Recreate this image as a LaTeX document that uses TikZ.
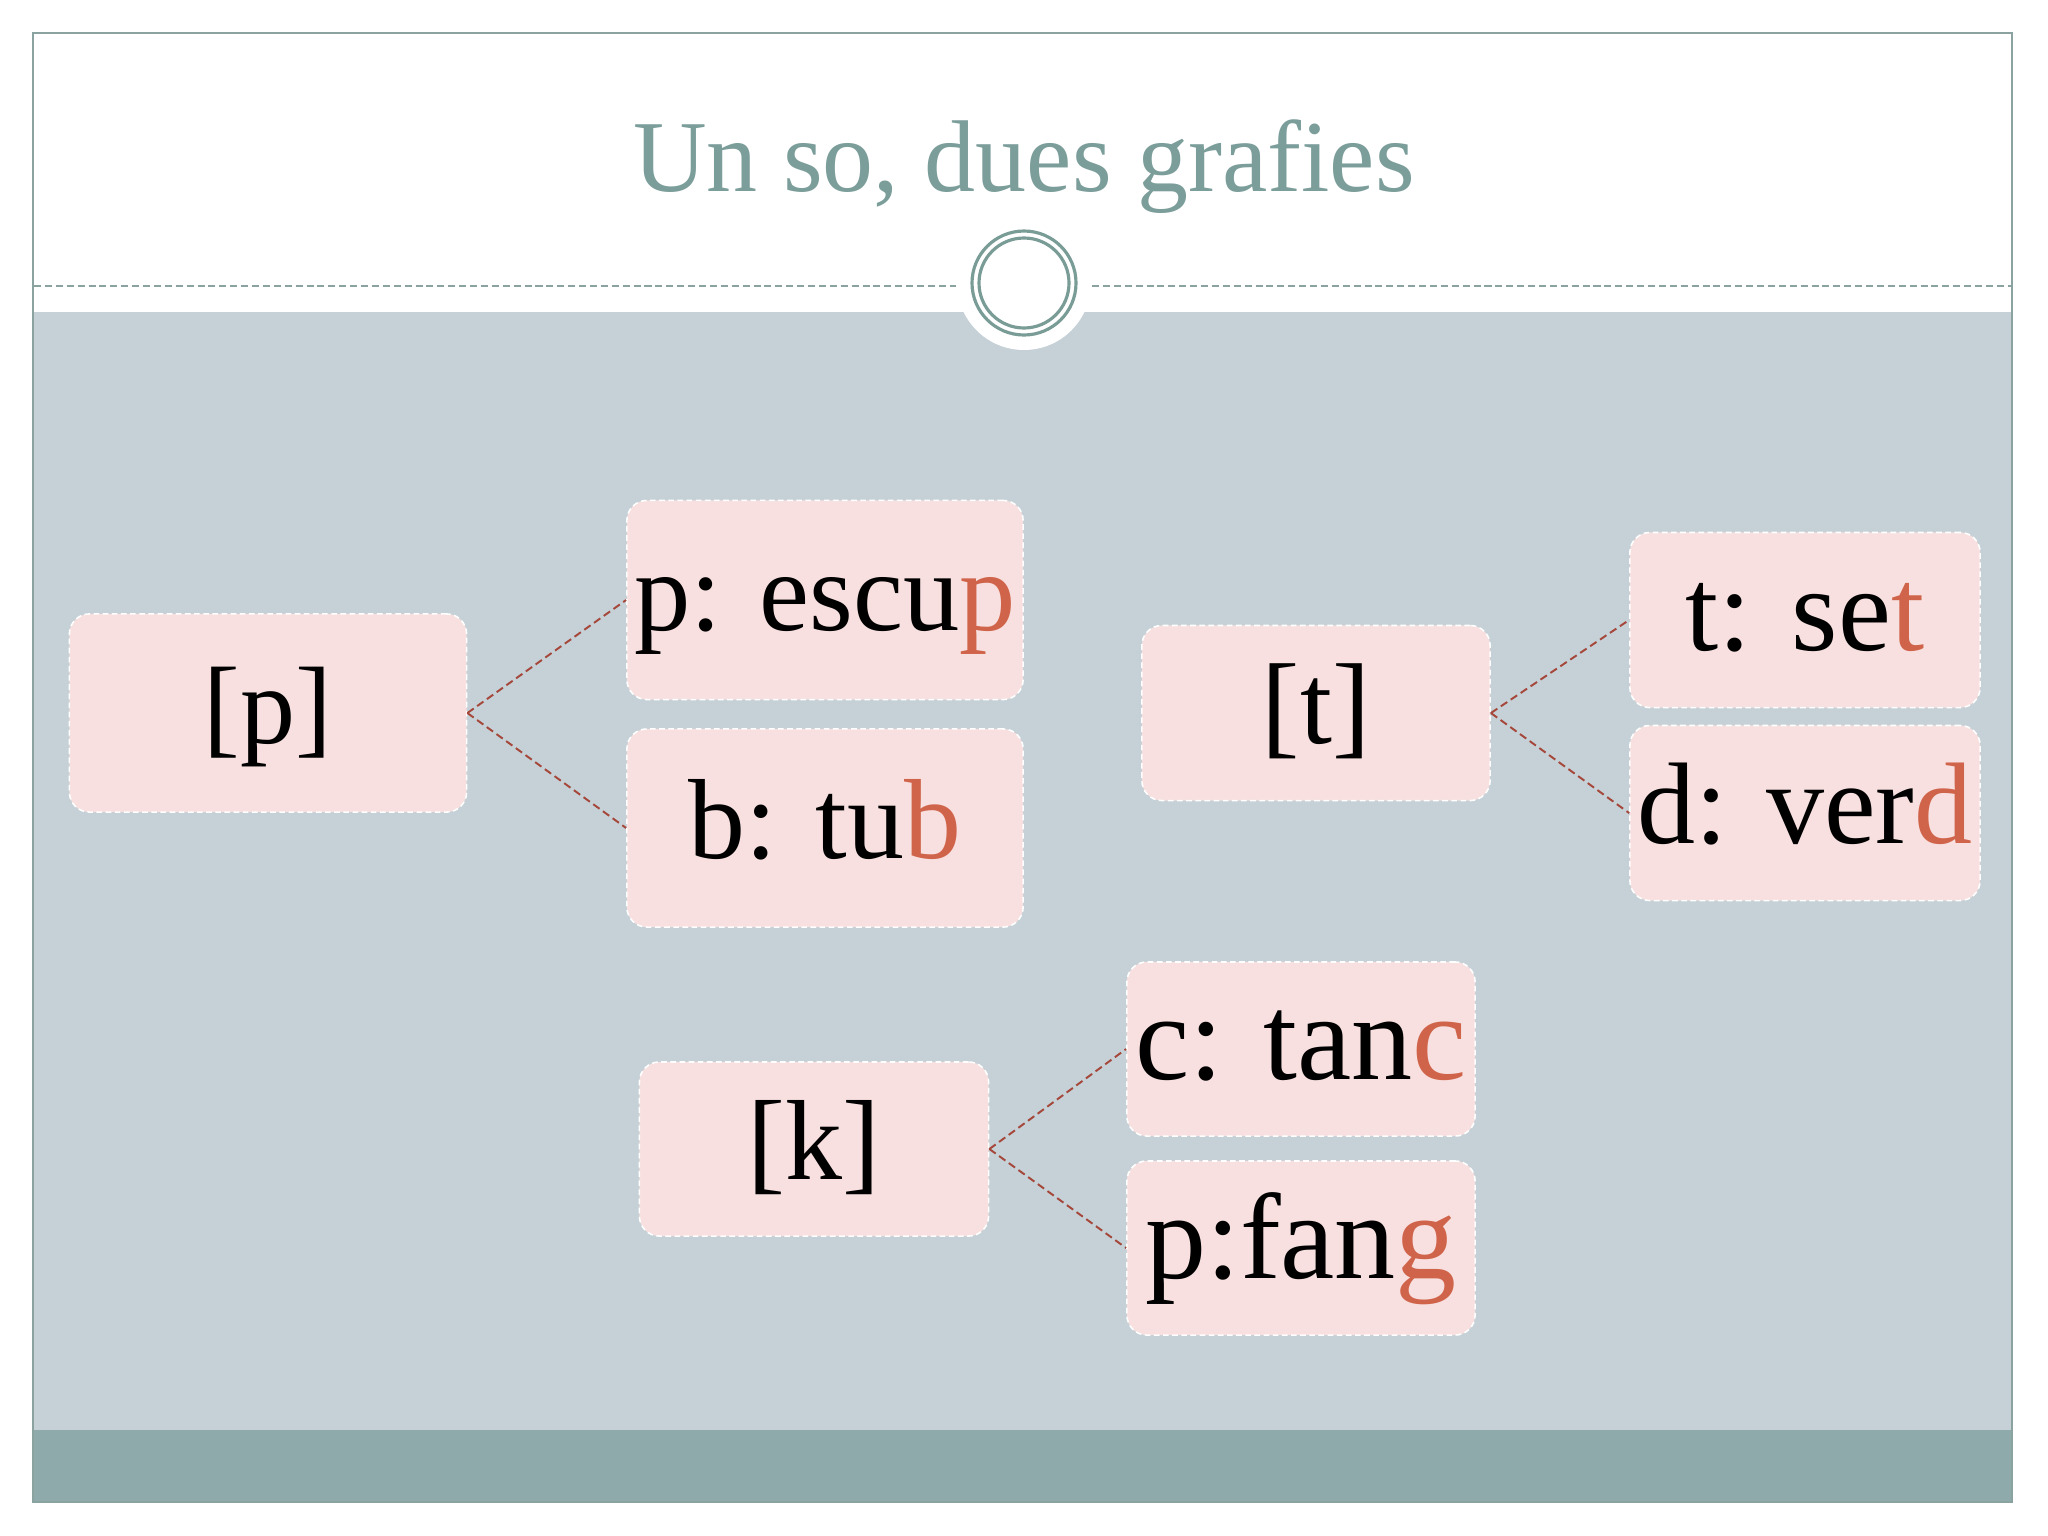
\documentclass[tikz,border=0pt]{standalone}
\usepackage{fontspec}
\setmainfont{Liberation Serif}
\definecolor{panel}{HTML}{C5D1D6}
\definecolor{band}{HTML}{8FAAAA}
\definecolor{frameline}{HTML}{8BA3A0}
\definecolor{ringcol}{HTML}{7A9C97}
\definecolor{titlecol}{HTML}{7C9E9B}
\definecolor{boxfill}{HTML}{F7E0DF}
\definecolor{conncol}{HTML}{A5473A}
\definecolor{accent}{HTML}{D0644A}
\newcommand{\fsz}[1]{\fontsize{#1}{1.2\dimexpr#1\relax}\selectfont}
\newcommand{\hl}[1]{\textcolor{accent}{#1}}
\tikzset{
  sbox/.style={draw=white, line width=0.45pt, dash pattern=on 1.6pt off 1pt,
    fill=boxfill, rounded corners=0.2cm, inner sep=0pt,
    text height=24pt, text depth=6.4pt, align=center},
  conn/.style={draw=conncol, line width=0.55pt, dash pattern=on 2.2pt off 1.2pt},
  dline/.style={draw=frameline, line width=0.5pt, dash pattern=on 2pt off 1.1pt}
}
\begin{document}
\begin{tikzpicture}[x=0.01cm,y=-0.01cm]
\useasboundingbox (0,0) rectangle (2048,1536);
\fill[white] (0,0) rectangle (2048,1536);
% panels
\fill[panel] (34,312) rectangle (2011,1430);
\fill[band] (34,1430) rectangle (2011,1502);
\draw[frameline, line width=0.6pt] (33,33) rectangle (2012,1502);
% dashed divider
\coordinate (dl1) at (34,286);
\coordinate (dl2) at (956,286);
\coordinate (dr1) at (1092,286);
\coordinate (dr2) at (2011,286);
\draw[dline] (dl1) -- (dl2);
\draw[dline] (dr1) -- (dr2);
% circle ornament
\fill[white] (1024,283) circle (67);
\draw[ringcol, line width=0.9pt] (1024,283) circle (52);
\draw[ringcol, line width=0.9pt] (1024,283) circle (45);
% title
\node[anchor=base, text=titlecol, font=\fsz{29pt}] (title) at (1024,191) {Un so, dues grafies};
% boxes
\node[sbox, minimum width=3.97cm, minimum height=1.98cm, font=\fsz{31.3pt}] (P) at (268,713) {[p]};
\node[sbox, minimum width=3.96cm, minimum height=1.99cm, font=\fsz{32pt}] (P1) at (825,600) {p: escu\hl{p}};
\node[sbox, minimum width=3.96cm, minimum height=1.98cm, font=\fsz{32.4pt}] (P2) at (825,828) {b: tu\hl{b}};
\node[sbox, minimum width=3.48cm, minimum height=1.75cm, font=\fsz{32.7pt}] (T) at (1316,713) {[t]};
\node[sbox, minimum width=3.50cm, minimum height=1.75cm, font=\fsz{33.9pt}] (T1) at (1805,620) {t: se\hl{t}};
\node[sbox, minimum width=3.50cm, minimum height=1.75cm, font=\fsz{33pt}] (T2) at (1805,813) {d: ver\hl{d}};
\node[sbox, minimum width=3.49cm, minimum height=1.74cm, font=\fsz{32.4pt}] (K) at (814,1149) {[k]};
\node[sbox, minimum width=3.48cm, minimum height=1.74cm, font=\fsz{34.7pt}] (K1) at (1301,1049) {c: tan\hl{c}};
\node[sbox, minimum width=3.48cm, minimum height=1.74cm, font=\fsz{34.7pt}] (K2) at (1301,1248) {p:fan\hl{g}};
% connectors
\draw[conn] (P.east) -- (P1.west);
\draw[conn] (P.east) -- (P2.west);
\draw[conn] (T.east) -- (T1.west);
\draw[conn] (T.east) -- (T2.west);
\draw[conn] (K.east) -- (K1.west);
\draw[conn] (K.east) -- (K2.west);
\end{tikzpicture}
\end{document}
